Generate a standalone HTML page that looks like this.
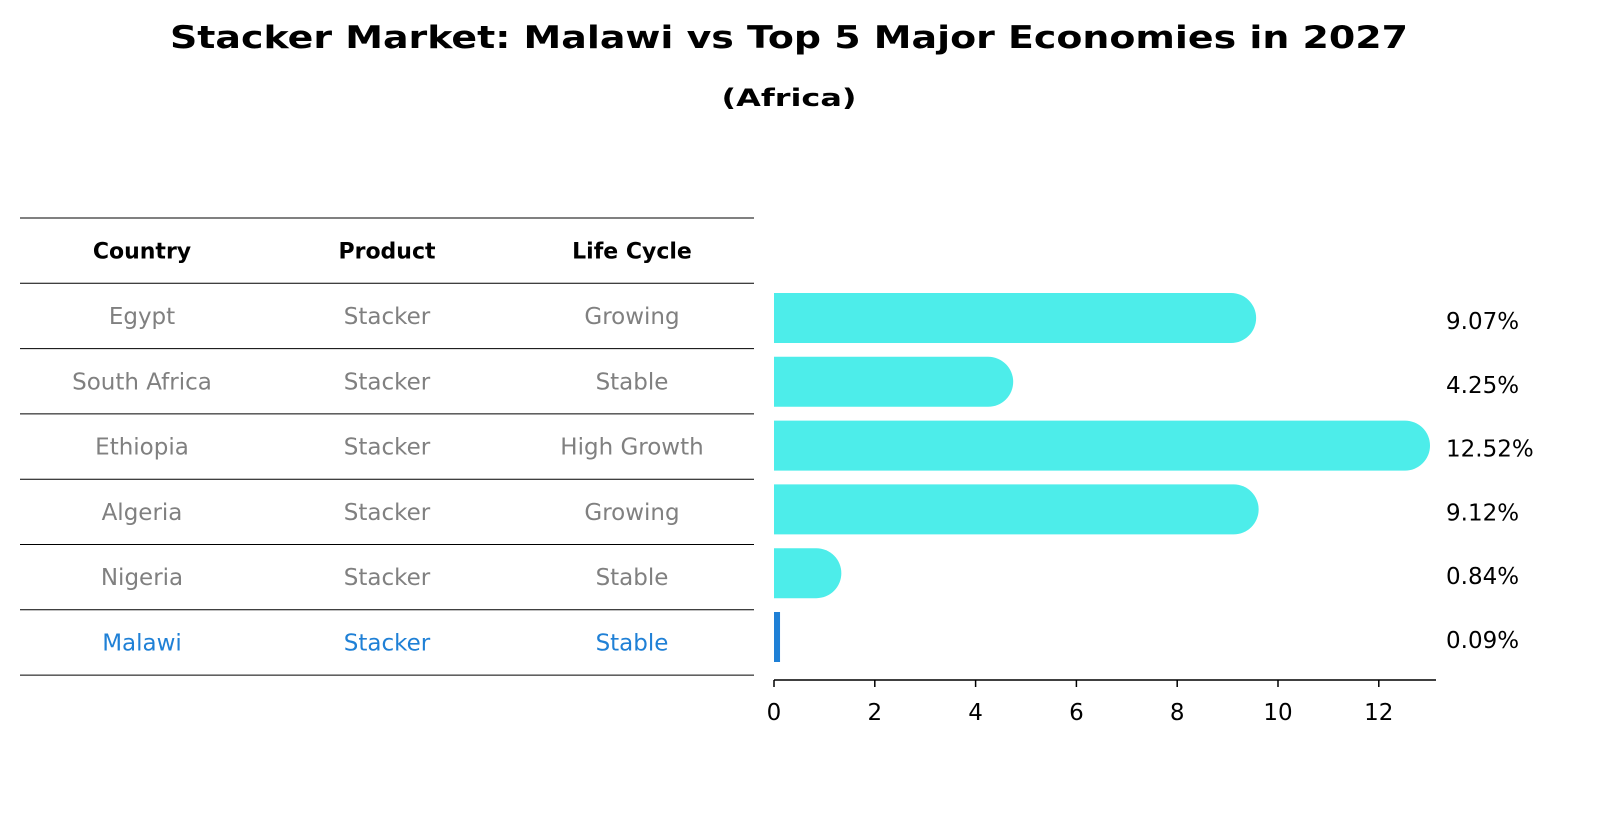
<!DOCTYPE html>
<html><head><meta charset="utf-8"><style>
body{margin:0;background:#fff;}
svg{display:block;font-family:"DejaVu Sans","Liberation Sans",sans-serif;}
</style></head><body>
<svg id="c" width="1604" height="823" viewBox="0 0 1604 823">
<text x="789" y="48" text-anchor="middle" font-size="31" font-weight="bold" textLength="1238" lengthAdjust="spacingAndGlyphs">Stacker Market: Malawi vs Top 5 Major Economies in 2027</text>
<text x="789" y="106" text-anchor="middle" font-size="24" font-weight="bold" textLength="135" lengthAdjust="spacingAndGlyphs">(Africa)</text>
<g id="table"></g>
<g id="bars"></g>
</svg>
<script>
const countries=["Egypt","South Africa","Ethiopia","Algeria","Nigeria","Malawi"];
const products=["Stacker","Stacker","Stacker","Stacker","Stacker","Stacker"];
const lifeCycles=["Growing","Stable","High Growth","Growing","Stable","Stable"];
const values=[9.07,4.25,12.52,9.12,0.84,0.09];
const xTicks=[0,2,4,6,8,10,12];
const NS="http://www.w3.org/2000/svg";
function mk(tag,attrs,parent){const e=document.createElementNS(NS,tag);for(const k in attrs)e.setAttribute(k,attrs[k]);parent.appendChild(e);return e;}
const table=document.getElementById('table');
const bars=document.getElementById('bars');
const tTop=218,tRow=65.3,colX=[142,387,632];
for(let i=0;i<=countries.length+1;i++){
  const l=mk('line',{x1:20,x2:754,y1:tTop+i*tRow,y2:tTop+i*tRow,stroke:'#000','stroke-width':1},table);
  
  
}
const heads=["Country","Product","Life Cycle"];
heads.forEach((h,j)=>{
  const t=mk('text',{x:colX[j],y:tTop+tRow/2+8,'text-anchor':'middle','font-size':22,'font-weight':'bold'},table);
  t.textContent=h;
  
  
});
countries.forEach((c,i)=>{
  const y=tTop+(i+1.5)*tRow+8;
  const col=c==="Malawi"?'#1f80d6':'#808080';
  [c,products[i],lifeCycles[i]].forEach((v,j)=>{
    const t=mk('text',{x:colX[j],y:y,'text-anchor':'middle','font-size':23,fill:col},table);
    t.textContent=v;
    
    
  });
});
const x0=774,xScale=50.4;
const X=v=>x0+v*xScale;
const yC0=318,yStep=63.8,bh=50;
const Y=i=>yC0+i*yStep;
values.forEach((v,i)=>{
  const yc=Y(i);
  if(countries[i]==="Malawi"){
    const b=mk('rect',{x:x0,y:yc-bh/2,width:Math.max(4,X(v)-x0+1.5),height:bh,fill:'#1f80d6'},bars);
    
    
  } else {
    const xe=X(v),r=bh/2;
    const p=mk('path',{d:`M${x0},${yc-r} L${xe},${yc-r} A${r},${r} 0 0 1 ${xe},${yc+r} L${x0},${yc+r} Z`,fill:'#4dedea'},bars);
    
    
  }
  const t=mk('text',{x:1446,y:yc+11,'font-size':23},bars);
  t.textContent=v.toFixed(2)+'%';
  
  
});
const ax=mk('line',{x1:x0,x2:1436,y1:680,y2:680,stroke:'#000','stroke-width':1.5},bars);


xTicks.forEach(v=>{
  const tk=mk('line',{x1:X(v),x2:X(v),y1:680,y2:687,stroke:'#000','stroke-width':1.5},bars);
  
  
  const t=mk('text',{x:X(v),y:720,'text-anchor':'middle','font-size':23},bars);
  t.textContent=v;
  
  
});
</script>
</body></html>
